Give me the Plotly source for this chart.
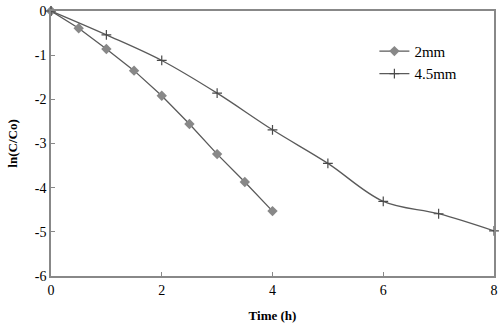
import plotly.graph_objects as go

time_2mm = [0, 0.5, 1, 1.5, 2, 2.5, 3, 3.5, 4]
lnc_2mm = [0, -0.39, -0.86, -1.35, -1.92, -2.56, -3.24, -3.87, -4.53]
time_45mm = [0, 1, 2, 3, 4, 5, 6, 7, 8]
lnc_45mm = [0, -0.54, -1.12, -1.86, -2.69, -3.45, -4.31, -4.59, -4.98]
x_ticks = [0, 2, 4, 6, 8]
y_ticks = [0, -1, -2, -3, -4, -5, -6]
y_tick_labels = ["0", "-1", "-2", "-3", "-4", "-5", "-6"]

font = "Liberation Serif, Times New Roman, serif"

fig = go.Figure()
fig.add_trace(go.Scatter(
    x=time_2mm, y=lnc_2mm, name="2mm", mode="lines+markers", cliponaxis=False,
    line=dict(color="#5a5a5a", width=1.3),
    marker=dict(symbol="diamond", size=8, color="#888888", line=dict(width=0)),
))
fig.add_trace(go.Scatter(
    x=time_45mm, y=lnc_45mm, name="4.5mm", mode="lines+markers", cliponaxis=False,
    line=dict(color="#5a5a5a", width=1.3, shape="spline", smoothing=1.0),
    marker=dict(symbol="cross-thin", size=7, color="#4a4a4a", line=dict(width=1.2, color="#4a4a4a")),
))

fig.update_layout(
    width=500, height=332,
    margin=dict(l=51, r=6, t=11, b=56, autoexpand=False),
    paper_bgcolor="white", plot_bgcolor="white",
    font=dict(family=font, size=14, color="black"),
    showlegend=True,
    legend=dict(x=0.73, y=0.91, xanchor="left", yanchor="top",
                bgcolor="rgba(0,0,0,0)", font=dict(size=15, family=font),
                itemwidth=30, tracegroupgap=0),
    xaxis=dict(range=[0, 8], tickvals=x_ticks, ticks="inside", ticklen=4,
               tickcolor="#888888", showgrid=False, zeroline=False, automargin=False,
               showline=True, linecolor="#888888", linewidth=1.5, mirror=True,
               tickfont=dict(size=14, family=font),
               title=dict(text="<b>Time (h)</b>", font=dict(size=13, family=font), standoff=14)),
    yaxis=dict(range=[-6, 0], tickvals=y_ticks, ticktext=y_tick_labels, ticks="inside", ticklen=4,
               tickcolor="#888888", showgrid=False, zeroline=False, automargin=False,
               showline=True, linecolor="#888888", linewidth=1.5, mirror=True,
               tickfont=dict(size=14, family=font),
               title=dict(text="<b>ln(C/Co)</b>", font=dict(size=13, family=font), standoff=14)),
)

fig.write_html("out.html", config={"displayModeBar": False},
               post_script="document.body.style.margin='0';document.body.style.padding='0';")
